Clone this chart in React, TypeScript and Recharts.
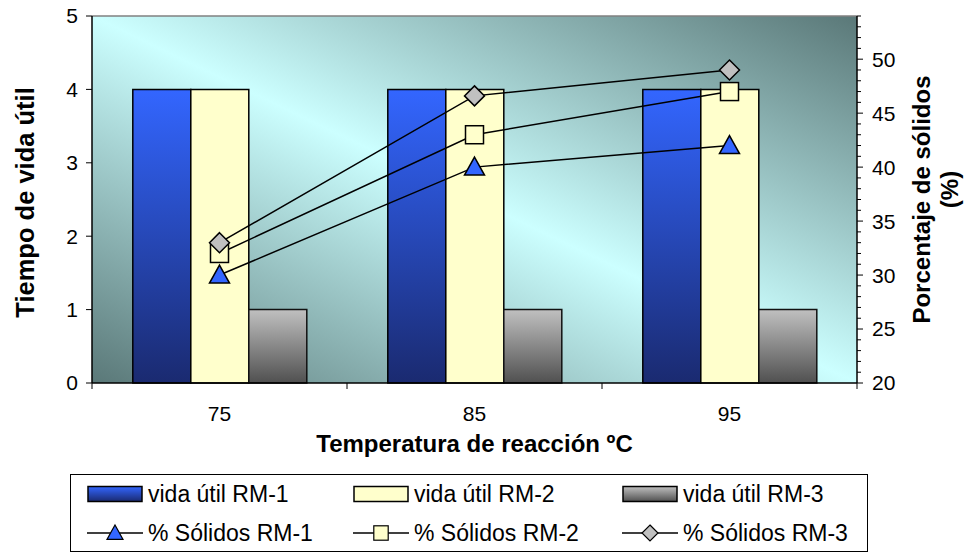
import React from 'react';
import {
  ComposedChart,
  Bar,
  Line,
  XAxis,
  YAxis,
  CartesianGrid,
  ReferenceLine,
  Label,
} from 'recharts';

// Data
const CATEGORIES = ['75', '85', '95'];
const VIDA_RM1 = [4, 4, 4];
const VIDA_RM2 = [4, 4, 4];
const VIDA_RM3 = [1, 1, 1];
const SOLIDOS_RM1 = [30, 40, 42];
const SOLIDOS_RM2 = [32, 43, 47];
const SOLIDOS_RM3 = [33, 46.6, 49];

const LEFT_TICKS = [0, 1, 2, 3, 4, 5];
const RIGHT_MAJOR = [20, 25, 30, 35, 40, 45, 50];
const RIGHT_TICKS = Array.from({ length: 35 }, (_, i) => 20 + i); // minor ticks every 1%

const FONT = 'Arial, "Liberation Sans", Helvetica, sans-serif';

const W = 970;
const H = 553;
const LEFT_W = 92;
const RIGHT_W = 113;
const TOP = 16;
const PLOT_BOTTOM = 383;
const PLOT_W = W - LEFT_W - RIGHT_W;
const X_TICK_SIZE = 6;
const X_TICK_MARGIN = 17;
const R_TICK_SIZE = 6;
const R_TICK_MARGIN = 9;

const data = CATEGORIES.map((cat, i) => ({
  cat,
  rm1: VIDA_RM1[i],
  rm2: VIDA_RM2[i],
  rm3: VIDA_RM3[i],
  s1: SOLIDOS_RM1[i],
  s2: SOLIDOS_RM2[i],
  s3: SOLIDOS_RM3[i],
}));

const triangle = (cx: number, cy: number) => (
  <polygon
    points={`${cx},${cy - 10} ${cx + 10},${cy + 8} ${cx - 10},${cy + 8}`}
    fill="#3366FF"
    stroke="#000"
    strokeWidth={1.5}
  />
);
const square = (cx: number, cy: number) => (
  <rect x={cx - 9} y={cy - 9} width={18} height={18} fill="#FFFFCC" stroke="#000" strokeWidth={1.5} />
);
const diamond = (cx: number, cy: number) => (
  <polygon
    points={`${cx},${cy - 10} ${cx + 10},${cy} ${cx},${cy + 10} ${cx - 10},${cy}`}
    fill="#C0C0C0"
    stroke="#000"
    strokeWidth={1.5}
  />
);

const makeDot = (shape: (cx: number, cy: number) => React.ReactNode) => (props: any) => {
  const { cx, cy, index } = props;
  return <g key={`dot-${index}`}>{shape(cx, cy)}</g>;
};

const XTick = (props: any) => {
  const { x, y, payload, index } = props;
  const axisY = y - X_TICK_SIZE - X_TICK_MARGIN;
  const half = PLOT_W / CATEGORIES.length / 2;
  return (
    <g>
      <line x1={x - half} x2={x - half} y1={axisY} y2={axisY + X_TICK_SIZE} stroke="#000" />
      {index === CATEGORIES.length - 1 && (
        <line x1={x + half} x2={x + half} y1={axisY} y2={axisY + X_TICK_SIZE} stroke="#000" />
      )}
      <text x={x} y={y} dy="0.71em" textAnchor="middle" fontSize={21} fontFamily={FONT} fill="#000">
        {payload.value}
      </text>
    </g>
  );
};

const RightTick = (props: any) => {
  const { x, y, payload } = props;
  const axisX = x - R_TICK_SIZE - R_TICK_MARGIN;
  const major = RIGHT_MAJOR.includes(payload.value);
  return (
    <g>
      <line x1={axisX} x2={axisX + (major ? 6 : 4)} y1={y} y2={y} stroke="#000" />
      {major && (
        <text x={x} y={y} dy="0.355em" textAnchor="start" fontSize={21} fontFamily={FONT} fill="#000">
          {payload.value}
        </text>
      )}
    </g>
  );
};

const LeftTitle = (props: any) => {
  const { viewBox } = props;
  const cx = 25;
  const cy = viewBox.y + viewBox.height / 2 + 3;
  return (
    <text
      x={cx}
      y={cy}
      transform={`rotate(-90 ${cx} ${cy})`}
      textAnchor="middle"
      dominantBaseline="central"
      fontSize={25.5}
      fontWeight="bold"
      fontFamily={FONT}
      fill="#000"
    >
      Tiempo de vida útil
    </text>
  );
};

const RightTitle = (props: any) => {
  const { viewBox } = props;
  const x1 = viewBox.x + 64;
  const x2 = viewBox.x + 92;
  const cy = viewBox.y + viewBox.height / 2;
  const cy2 = cy - 10;
  return (
    <g fontSize={24} fontWeight="bold" fontFamily={FONT} fill="#000">
      <text x={x1} y={cy} transform={`rotate(-90 ${x1} ${cy})`} textAnchor="middle" dominantBaseline="central">
        Porcentaje de sólidos
      </text>
      <text x={x2} y={cy2} transform={`rotate(-90 ${x2} ${cy2})`} textAnchor="middle" dominantBaseline="central">
        (%)
      </text>
    </g>
  );
};

const XTitle = (props: any) => {
  const { viewBox } = props;
  const cx = viewBox.x + viewBox.width / 2;
  return (
    <text x={cx} y={452} textAnchor="middle" fontSize={24} fontWeight="bold" fontFamily={FONT} fill="#000">
      Temperatura de reacción ºC
    </text>
  );
};

type LegendItem = { name: string; kind: 'bar' | 'line'; fill: string; marker?: (cx: number, cy: number) => React.ReactNode };

const LEGEND_ITEMS: LegendItem[] = [
  { name: 'vida útil RM-1', kind: 'bar', fill: 'url(#lgBlue)' },
  { name: 'vida útil RM-2', kind: 'bar', fill: '#FFFFCC' },
  { name: 'vida útil RM-3', kind: 'bar', fill: 'url(#lgGray)' },
  { name: '% Sólidos RM-1', kind: 'line', fill: '#3366FF', marker: triangle },
  { name: '% Sólidos RM-2', kind: 'line', fill: '#FFFFCC', marker: square },
  { name: '% Sólidos RM-3', kind: 'line', fill: '#C0C0C0', marker: diamond },
];

const COL_X = [17, 283, 552];
const ROW_Y = [19, 58];

const LegendBox = () => (
  <div
    style={{
      position: 'absolute',
      left: 70,
      top: 474,
      width: 798,
      height: 78,
      border: '1px solid #000',
      boxSizing: 'border-box',
      background: '#fff',
      fontFamily: FONT,
      fontSize: 23,
      color: '#000',
    }}
  >
    {LEGEND_ITEMS.map((item, i) => {
      const col = i % 3;
      const row = Math.floor(i / 3);
      return (
        <div
          key={item.name}
          style={{
            position: 'absolute',
            left: COL_X[col] - 1,
            top: ROW_Y[row] - 16,
            height: 32,
            display: 'flex',
            alignItems: 'center',
            whiteSpace: 'nowrap',
          }}
        >
          <svg width={56} height={32} style={{ display: 'block' }}>
            <defs>
              <linearGradient id="lgBlue" x1="0" y1="0" x2="0" y2="1">
                <stop offset="0%" stopColor="#3366FF" />
                <stop offset="100%" stopColor="#1A2A70" />
              </linearGradient>
              <linearGradient id="lgGray" x1="0" y1="0" x2="0" y2="1">
                <stop offset="0%" stopColor="#C0C0C0" />
                <stop offset="100%" stopColor="#505050" />
              </linearGradient>
            </defs>
            {item.kind === 'bar' ? (
              <rect x={1} y={8.5} width={54} height={15} fill={item.fill} stroke="#000" strokeWidth={1.5} />
            ) : (
              <g>
                <line x1={0} x2={56} y1={16} y2={16} stroke="#000" strokeWidth={1.5} />
                {item.marker && (
                  <g transform="translate(28 16) scale(0.8) translate(-28 -16)">{item.marker(28, 16)}</g>
                )}
              </g>
            )}
          </svg>
          <span style={{ marginLeft: 5 }}>{item.name}</span>
        </div>
      );
    })}
  </div>
);

export default function App() {
  return (
    <div style={{ position: 'relative', width: W, height: H, background: '#fff' }}>
      <style>{`body{margin:0}`}</style>
      <ComposedChart
        width={W}
        height={H}
        data={data}
        margin={{ top: TOP, right: 0, bottom: 0, left: 0 }}
        barCategoryGap="16%"
        barGap={0}
      >
        <defs>
          <linearGradient id="bgGrad" x1="0" y1="1" x2="1" y2="0">
            <stop offset="0%" stopColor="#5A7878" />
            <stop offset="50%" stopColor="#CCFFFF" />
            <stop offset="100%" stopColor="#5A7878" />
          </linearGradient>
          <linearGradient id="blueGrad" x1="0" y1="0" x2="0" y2="1">
            <stop offset="0%" stopColor="#3366FF" />
            <stop offset="100%" stopColor="#1A2A70" />
          </linearGradient>
          <linearGradient id="grayGrad" x1="0" y1="0" x2="0" y2="1">
            <stop offset="0%" stopColor="#C0C0C0" />
            <stop offset="100%" stopColor="#505050" />
          </linearGradient>
        </defs>
        <CartesianGrid horizontal={false} vertical={false} fill="url(#bgGrad)" fillOpacity={1} />
        <XAxis
          dataKey="cat"
          height={H - PLOT_BOTTOM}
          axisLine={{ stroke: '#000', strokeWidth: 1.5 }}
          tickLine={false}
          tickSize={X_TICK_SIZE}
          tickMargin={X_TICK_MARGIN}
          tick={<XTick />}
          interval={0}
        >
          <Label content={<XTitle />} />
        </XAxis>
        <YAxis
          yAxisId="left"
          width={LEFT_W}
          domain={[0, 5]}
          ticks={LEFT_TICKS}
          interval={0}
          axisLine={{ stroke: '#000', strokeWidth: 1.5 }}
          tickLine={{ stroke: '#000' }}
          tickSize={6}
          tickMargin={8}
          tick={{ fontSize: 21, fontFamily: FONT, fill: '#000' }}
        >
          <Label content={<LeftTitle />} />
        </YAxis>
        <YAxis
          yAxisId="right"
          orientation="right"
          width={RIGHT_W}
          domain={[20, 54]}
          ticks={RIGHT_TICKS}
          interval={0}
          axisLine={{ stroke: '#000', strokeWidth: 1.5 }}
          tickLine={false}
          tickSize={R_TICK_SIZE}
          tickMargin={R_TICK_MARGIN}
          tick={<RightTick />}
        >
          <Label content={<RightTitle />} />
        </YAxis>
        <ReferenceLine yAxisId="left" y={5} stroke="#808080" strokeWidth={1.5} />
        <Bar yAxisId="left" dataKey="rm1" name="vida útil RM-1" fill="url(#blueGrad)" stroke="#000" strokeWidth={1.5} isAnimationActive={false} />
        <Bar yAxisId="left" dataKey="rm2" name="vida útil RM-2" fill="#FFFFCC" stroke="#000" strokeWidth={1.5} isAnimationActive={false} />
        <Bar yAxisId="left" dataKey="rm3" name="vida útil RM-3" fill="url(#grayGrad)" stroke="#111" strokeWidth={1.5} isAnimationActive={false} />
        <Line yAxisId="right" dataKey="s1" name="% Sólidos RM-1" stroke="#000" strokeWidth={1.5} dot={makeDot(triangle)} activeDot={false} isAnimationActive={false} />
        <Line yAxisId="right" dataKey="s2" name="% Sólidos RM-2" stroke="#000" strokeWidth={1.5} dot={makeDot(square)} activeDot={false} isAnimationActive={false} />
        <Line yAxisId="right" dataKey="s3" name="% Sólidos RM-3" stroke="#000" strokeWidth={1.5} dot={makeDot(diamond)} activeDot={false} isAnimationActive={false} />
      </ComposedChart>
      <LegendBox />
    </div>
  );
}
